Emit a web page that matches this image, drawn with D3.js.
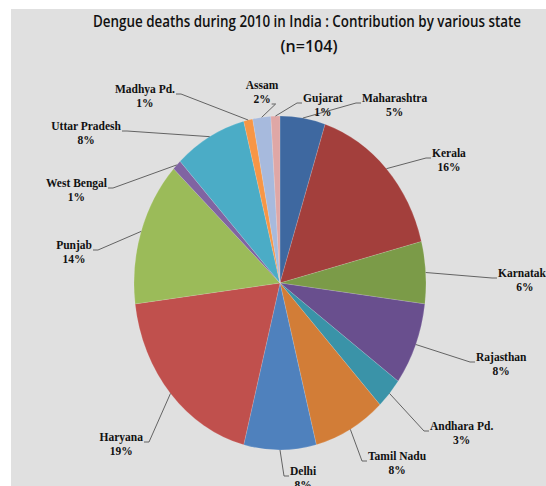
<!DOCTYPE html>
<html><head><meta charset="utf-8">
<script src="https://cdn.jsdelivr.net/npm/d3@7"></script>
<style>
html,body{margin:0;padding:0;background:#fff;}
svg{display:block;}
.title{font-family:"Open Sans","Noto Sans",sans-serif;font-weight:600;font-size:16px;fill:#111;}
.lbl text{font-family:"Liberation Serif","Times New Roman",serif;font-weight:bold;font-size:11.5px;fill:#111;}
</style>
</head><body>
<svg id="chart" width="546" height="486"></svg>
<script>
const states = ["Maharashtra","Kerala","Karnataka","Rajasthan","Andhara Pd.","Tamil Nadu","Delhi","Haryana","Punjab","West Bengal","Uttar Pradesh","Madhya Pd.","Assam","Gujarat"];
const shares = [5,16,6,8,3,8,8,19,14,1,8,1,2,1];
const colors = ["#3e68a0","#a33f3c","#7b9b48","#694f8e","#3a93a8","#d27d37","#4f81bd","#c0504d","#9bbb59","#8064a2","#4bacc6","#f79646","#a7badd","#dfa7a6"];
const titleLines = ["Dengue deaths during 2010 in India : Contribution by various state","(n=104)"];

// label layout: text edge x, first line centre y, side
const labelLayout = {
  "Maharashtra":[362,98,"r"],
  "Kerala":[432,153,"r"],
  "Karnataka":[498,273,"r"],
  "Rajasthan":[476,357,"r"],
  "Andhara Pd.":[430,426,"r"],
  "Tamil Nadu":[368,456,"r"],
  "Delhi":[290,471,"r"],
  "Haryana":[143,437,"l"],
  "Punjab":[92,245,"l"],
  "West Bengal":[107,183,"l"],
  "Uttar Pradesh":[121,126,"l"],
  "Madhya Pd.":[175,89,"l"],
  "Assam":[262,85,"c"],
  "Gujarat":[303,98,"r"]
};

const svg = d3.select("#chart");
svg.append("rect").attr("x",11).attr("y",9).attr("width",535).attr("height",477).attr("fill","#e0e0e0");

svg.selectAll("text.title").data(titleLines).join("text")
  .attr("class","title")
  .attr("x",(d,i)=>i===0?307:309)
  .attr("y",(d,i)=>i===0?27:52)
  .attr("text-anchor","middle")
  .attr("textLength",(d,i)=>i===0?428:null)
  .attr("lengthAdjust","spacingAndGlyphs")
  .text(d=>d);

const cx=280, cy=283, rx=146, ry=167;
const data = states.map((s,i)=>({name:s,value:shares[i],color:colors[i]}));
const pie = d3.pie().value(d=>d.value).sort(null);
const arcs = pie(data);
const arc = d3.arc().innerRadius(0).outerRadius(rx);

const g = svg.append("g").attr("transform",`translate(${cx},${cy}) scale(1,${ry/rx})`);
g.selectAll("path").data(arcs).join("path")
  .attr("d",arc).attr("fill",d=>d.data.color)
  .attr("stroke","rgba(255,255,255,0.25)").attr("stroke-width",0.5);

const lines = svg.append("g");
const labels = svg.append("g").attr("class","lbl");
const total = d3.sum(shares);
arcs.forEach(a=>{
  const mid=(a.startAngle+a.endAngle)/2;
  const ax=cx+rx*Math.sin(mid), ay=cy-ry*Math.cos(mid);
  const [lx,ly,side]=labelLayout[a.data.name];
  const pct=Math.round(a.data.value/total*100)+"%";
  const anchor = side==="r"?"start":side==="l"?"end":"middle";
  const nameEl = labels.append("text").attr("x",lx).attr("y",ly).attr("dominant-baseline","central").attr("text-anchor",anchor).text(a.data.name);
  const w = nameEl.node().getComputedTextLength();
  const centre = anchor==="start"? lx+w/2 : anchor==="end"? lx-w/2 : lx;
  const pEl = labels.append("text").attr("x",centre).attr("y",ly+14).attr("dominant-baseline","central").attr("text-anchor","middle").text(pct);
  const pw = pEl.node().getComputedTextLength();
  const by=ly+5;
  let pts;
  if(side==="r") pts=[[ax,ay],[lx-6,by],[lx-1,by]];
  else if(side==="l") pts=[[ax,ay],[lx+6,by],[lx+1,by]];
  else { const px=centre+pw/2; pts=[[ax,ay],[px+5,by+14],[px+1,by+14]]; }
  lines.append("path").attr("d",d3.line()(pts)).attr("fill","none").attr("stroke","#555").attr("stroke-width",0.9);
});
</script>
</body></html>
